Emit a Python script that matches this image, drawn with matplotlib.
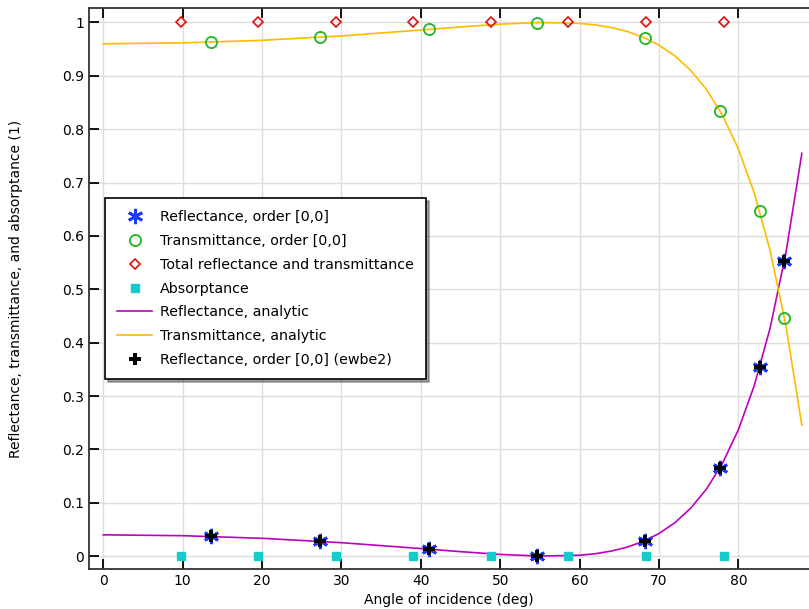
import matplotlib
matplotlib.use('Agg')
import matplotlib.pyplot as plt
from matplotlib.ticker import MultipleLocator

ang_ord = [13.6, 27.3, 41.0, 54.6, 68.2, 77.7, 82.7, 85.8]
refl_ord = [0.037, 0.028, 0.013, 0.0003, 0.029, 0.166, 0.354, 0.553]
trans_ord = [0.963, 0.972, 0.987, 0.9997, 0.971, 0.834, 0.646, 0.447]

ang_tot = [9.8, 19.5, 29.3, 39.0, 48.8, 58.6, 68.4, 78.2]
total = [1.0, 1.0, 1.0, 1.0, 1.0, 1.0, 1.0, 1.0]
absorp = [0.0, 0.0, 0.0, 0.0, 0.0, 0.0, 0.0, 0.0]

# analytic curves
ang_an = [0, 10, 20, 30, 40, 45, 50, 55, 60, 62, 64, 66, 68, 70, 72, 74,
          76, 78, 80, 82, 84, 86, 88]
refl_an = [0.040, 0.0384, 0.0335, 0.0253, 0.0143, 0.0085, 0.0033, 0.0002,
           0.0018, 0.0047, 0.0096, 0.0170, 0.0277, 0.0425, 0.0627, 0.0899,
           0.1261, 0.1739, 0.2368, 0.3193, 0.4273, 0.5688, 0.7548]
trans_an = [1 - r for r in refl_an]

plt.rcParams['font.family'] = 'DejaVu Sans'
fig = plt.figure(figsize=(8.09, 6.09), dpi=100)
ax = fig.add_axes([89 / 809, 40 / 609, 720 / 809, 561 / 609])

ax.plot(ang_ord, refl_ord, linestyle='none', marker=(6, 2, 0), markersize=11,
        markeredgewidth=2, color='#1a3cff', label='Reflectance, order [0,0]', zorder=4)
ax.plot(ang_ord, trans_ord, linestyle='none', marker='o', markersize=8,
        markerfacecolor='none', markeredgewidth=1.4, color='#2eb82e',
        label='Transmittance, order [0,0]', zorder=4)
ax.plot(ang_tot, total, linestyle='none', marker='D', markersize=5.5,
        markerfacecolor='none', markeredgewidth=1.2, color='#e01010',
        label='Total reflectance and transmittance', zorder=4)
ax.plot(ang_tot, absorp, linestyle='none', marker='s', markersize=6,
        color='#14cccc', label='Absorptance', zorder=4)
ax.plot(ang_an, refl_an, color='#bf00bf', lw=1.2, label='Reflectance, analytic', zorder=3)
ax.plot(ang_an, trans_an, color='#ffbb00', lw=1.2, label='Transmittance, analytic', zorder=3)
ax.plot(ang_ord, refl_ord, linestyle='none', marker='P', markersize=9,
        color='black', markeredgewidth=0, label='Reflectance, order [0,0] (ewbe2)', zorder=5)

ax.set_xlim(-1.8, 88.9)
ax.set_ylim(-0.024, 1.027)
ax.xaxis.set_major_locator(MultipleLocator(10))
ax.set_yticks([0, 0.1, 0.2, 0.3, 0.4, 0.5, 0.6, 0.7, 0.8, 0.9, 1.0])
ax.set_yticklabels(['0', '0.1', '0.2', '0.3', '0.4', '0.5', '0.6', '0.7', '0.8', '0.9', '1'])
ax.grid(True, color='#dddddd', lw=1)
ax.set_axisbelow(True)
ax.tick_params(direction='in', length=7, width=1.3, top=True, labelsize=10,
               colors='black')
for s in ['left', 'top', 'bottom']:
    ax.spines[s].set_color('#333333')
    ax.spines[s].set_linewidth(1.3)
ax.spines['right'].set_visible(False)

ax.set_xlabel('Angle of incidence (deg)', fontsize=10, labelpad=4)
ax.set_ylabel('Reflectance, transmittance, and absorptance (1)', fontsize=10, labelpad=28)

leg = ax.legend(loc='upper left', bbox_to_anchor=(0.0222, 0.661), borderaxespad=0,
                fontsize=10.3, fancybox=False, shadow=True, edgecolor='black',
                framealpha=1, labelspacing=0.68, handlelength=2.45,
                handletextpad=0.55, borderpad=0.85)
leg.get_frame().set_linewidth(1.2)

fig.savefig('out.png', dpi=100)
